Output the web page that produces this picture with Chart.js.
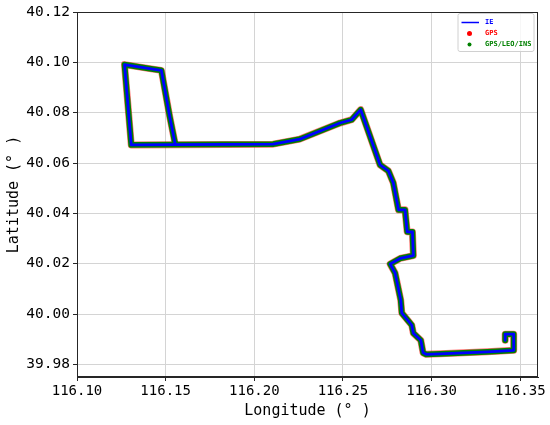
<!DOCTYPE html>
<html>
<head>
<meta charset="utf-8">
<script src="https://cdn.jsdelivr.net/npm/chart.js@4"></script>
<style>
html, body { margin: 0; padding: 0; background: #fff; }
#wrap { width: 550px; height: 425px; }
</style>
</head>
<body>
<div id="wrap"><canvas id="trackChart" width="550" height="425"></canvas></div>
<script>
// Track vertices, lon / lat in degrees
const lonPts = [116.3415, 116.3415, 116.3463, 116.3463, 116.3314, 116.3048, 116.2969, 116.2952,
    116.2939, 116.2897, 116.2888, 116.2832, 116.2826, 116.2794, 116.2766, 116.2822, 116.2897,
    116.2892, 116.2862, 116.2850, 116.2813, 116.2784, 116.2756, 116.2709, 116.2600, 116.2549,
    116.2483, 116.2257, 116.2106, 116.1306, 116.1268, 116.1419, 116.1476, 116.1523, 116.1554];
const latPts = [39.9896, 39.9920, 39.9920, 39.9856, 39.9850, 39.9842, 39.9840, 39.9846,
    39.9896, 39.9924, 39.9956, 40.0004, 40.0055, 40.0163, 40.0199, 40.0221, 40.0232,
    40.0326, 40.0327, 40.0414, 40.0414, 40.0521, 40.0569, 40.0593, 40.0812, 40.0772,
    40.0759, 40.0695, 40.0675, 40.0672, 40.0991, 40.0974, 40.0968, 40.0784, 40.0675];

const seriesNames = ['IE', 'GPS', 'GPS/LEO/INS'];
const seriesColors = ['#0000ff', '#ff0000', '#008000'];
const xTicks = [116.10, 116.15, 116.20, 116.25, 116.30, 116.35];
const yTicks = [39.98, 40.00, 40.02, 40.04, 40.06, 40.08, 40.10, 40.12];

const FONT = "'DejaVu Sans Mono', 'Noto Sans CJK SC', monospace";
const track = lonPts.map((x, i) => ({ x: x, y: latPts[i] }));

// frame around the plot area (top + right spines)
const framePlugin = {
    id: 'frame',
    afterDatasetsDraw(chart) {
        const a = chart.chartArea, ctx = chart.ctx;
        ctx.save();
        ctx.strokeStyle = '#262626';
        ctx.lineWidth = 1;
        ctx.strokeRect(Math.round(a.left) + 0.5, Math.round(a.top) + 0.5,
            Math.round(a.right - a.left) - 1, Math.round(a.bottom - a.top) - 1);
        ctx.restore();
    }
};

// boxed legend in the upper right corner
const legendBoxPlugin = {
    id: 'legendBox',
    afterDraw(chart) {
        const a = chart.chartArea, ctx = chart.ctx;
        const w = 76, h = 38;
        const x0 = a.right - 4 - w, y0 = a.top + 1.5;
        ctx.save();
        ctx.beginPath();
        const r = 2;
        ctx.moveTo(x0 + r, y0);
        ctx.lineTo(x0 + w - r, y0); ctx.quadraticCurveTo(x0 + w, y0, x0 + w, y0 + r);
        ctx.lineTo(x0 + w, y0 + h - r); ctx.quadraticCurveTo(x0 + w, y0 + h, x0 + w - r, y0 + h);
        ctx.lineTo(x0 + r, y0 + h); ctx.quadraticCurveTo(x0, y0 + h, x0, y0 + h - r);
        ctx.lineTo(x0, y0 + r); ctx.quadraticCurveTo(x0, y0, x0 + r, y0);
        ctx.closePath();
        ctx.fillStyle = 'rgba(255,255,255,0.8)';
        ctx.fill();
        ctx.strokeStyle = '#d0d0d0';
        ctx.lineWidth = 1;
        ctx.stroke();

        ctx.font = 'bold 7px ' + FONT;
        ctx.textBaseline = 'middle';
        ctx.textAlign = 'left';
        const rows = [y0 + 9, y0 + 20, y0 + 31];
        seriesNames.forEach((name, i) => {
            const cy = rows[i];
            if (i === 0) {
                ctx.strokeStyle = seriesColors[i];
                ctx.lineWidth = 1.5;
                ctx.beginPath();
                ctx.moveTo(x0 + 3.5, cy); ctx.lineTo(x0 + 21, cy);
                ctx.stroke();
            } else {
                ctx.fillStyle = seriesColors[i];
                ctx.beginPath();
                ctx.arc(x0 + 11.5, cy, i === 1 ? 2.5 : 2, 0, Math.PI * 2);
                ctx.fill();
            }
            ctx.fillStyle = seriesColors[i];
            ctx.fillText(name, x0 + 27, cy);
        });
        ctx.restore();
    }
};

const ctx = document.getElementById('trackChart').getContext('2d');
const myChart = new Chart(ctx, {
    type: 'scatter',
    data: {
        // dataset 0 is drawn on top: IE line over GPS/LEO/INS over GPS
        datasets: [
            { label: seriesNames[0], data: track, showLine: true, borderColor: seriesColors[0],
              borderWidth: 2.8, pointRadius: 0, borderJoinStyle: 'round', borderCapStyle: 'round' },
            { label: seriesNames[2], data: track, showLine: true, borderColor: seriesColors[2],
              borderWidth: 5.8, pointRadius: 0, borderJoinStyle: 'round', borderCapStyle: 'round' },
            { label: seriesNames[1], data: track, showLine: true, borderColor: 'rgba(255,0,0,0.55)',
              borderWidth: 7, pointRadius: 0, borderJoinStyle: 'round', borderCapStyle: 'round' }
        ]
    },
    options: {
        responsive: false,
        animation: false,
        devicePixelRatio: 1,
        layout: { padding: { left: 0, top: 12, right: 12, bottom: 0 } },
        plugins: { legend: { display: false }, tooltip: { enabled: false } },
        scales: {
            x: {
                type: 'linear',
                min: 116.10,
                max: 116.36,
                afterBuildTicks: s => { s.ticks = xTicks.map(v => ({ value: v })); },
                afterFit: s => { s.height = 48; },
                ticks: { callback: v => v.toFixed(2), color: '#000', font: { family: FONT, size: 14 }, padding: 2, maxRotation: 0 },
                grid: { color: '#d4d4d4', tickColor: '#262626', tickLength: 4, lineWidth: 1 },
                border: { color: '#262626' },
                title: { display: true, text: 'Longitude (° )', color: '#000',
                         font: { family: FONT, size: 15 }, padding: { top: 0, bottom: 5 } }
            },
            y: {
                type: 'linear',
                min: 39.975,
                max: 40.12,
                afterBuildTicks: s => { s.ticks = yTicks.map(v => ({ value: v })); },
                afterFit: s => { s.width = 77; },
                ticks: { callback: v => v.toFixed(2), color: '#000', font: { family: FONT, size: 14.5 }, padding: 3 },
                grid: { color: '#d4d4d4', tickColor: '#262626', tickLength: 4, lineWidth: 1 },
                border: { color: '#262626' },
                title: { display: true, text: 'Latitude (° )', color: '#000',
                         font: { family: FONT, size: 15 }, padding: { top: 5, bottom: 0 } }
            }
        }
    },
    plugins: [framePlugin, legendBoxPlugin]
});
</script>
</body>
</html>
